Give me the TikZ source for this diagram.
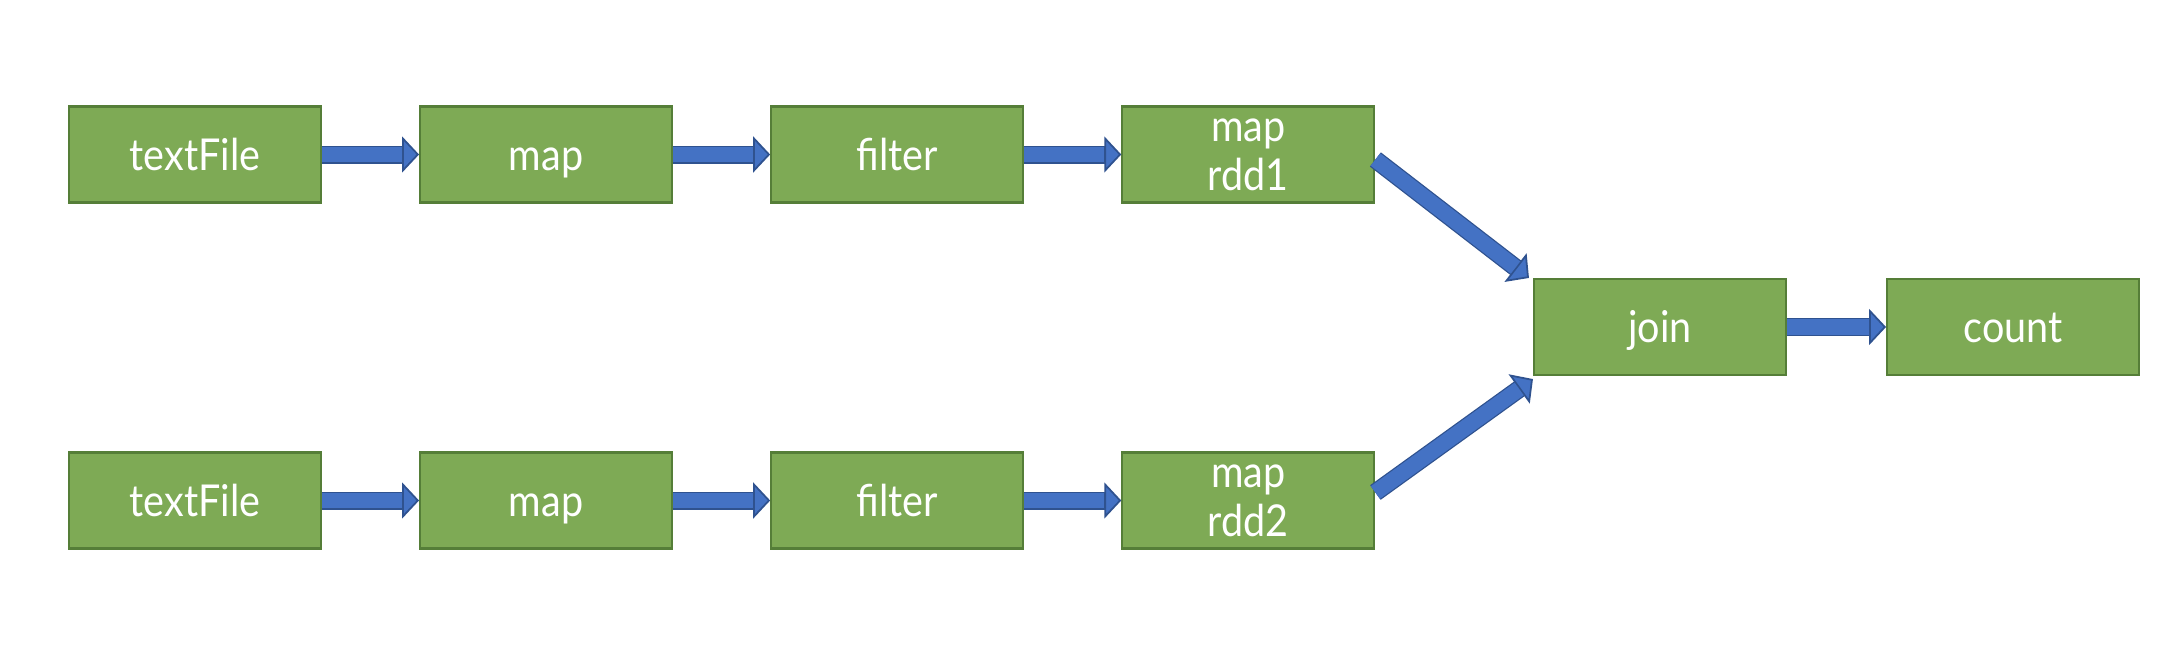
\documentclass[tikz,border=0pt]{standalone}
\usepackage{fontspec}
\setmainfont{Lato}[FakeStretch = 0.9]
\usepackage{xcolor}
\usepackage{tikz}
\usetikzlibrary{positioning,arrows.meta}

\definecolor{stagefill}{HTML}{7EAA55}
\definecolor{stageline}{HTML}{557E38}
\definecolor{flowfill}{HTML}{4472C4}
\definecolor{flowline}{HTML}{2F528F}

\tikzset{
  block/.style = {draw = stageline, fill = stagefill, line width = 0.6pt,
    minimum width = 2.52cm, minimum height = 0.96cm, inner ysep = 0pt,
    text = white, align = center, font = \fontsize{12.5}{13.9}\selectfont},
  stage/.style = {block, text height = 9pt, text depth = 0pt},
  flow/.style = {draw = flowline, line width = 0.18cm,
    -{Triangle[width = 0.36cm, length = 0.17cm, line width = 0.5pt, fill = flowfill]},
    postaction = {draw = flowfill, line width = 0.155cm, -, shorten > = 0.17cm}}
}

\begin{document}
\begin{tikzpicture}
    \useasboundingbox (0, 0) rectangle (21.62, 6.66);
    {
      \node[stage] (T1) at (1.95, 5.115) {textFile};
      \node[stage, right = 0.97cm of T1] (M1) {map};
      \node[stage, right = 0.97cm of M1] (F1) {filter};
      \node[block, right = 0.97cm of F1] (R1) {map\\rdd1};
    }
    {
      \node[stage] (T2) at (1.95, 1.655) {textFile};
      \node[stage, right = 0.97cm of T2] (M2) {map};
      \node[stage, right = 0.97cm of M2] (F2) {filter};
      \node[block, right = 0.97cm of F2] (R2) {map\\rdd2};
    }
    \node[stage] (J) at (16.6, 3.39) {join};
    \node[stage, right = 0.99cm of J] (C) {count};

    \draw[flow] (T1) -- (M1);
    \draw[flow] (M1) -- (F1);
    \draw[flow] (F1) -- (R1);
    \draw[flow] (T2) -- (M2);
    \draw[flow] (M2) -- (F2);
    \draw[flow] (F2) -- (R2);
    \draw[flow] ([yshift = -0.5mm]R1.east) -- ([xshift = -0.4mm]J.north west);
    \draw[flow] ([yshift = 0.8mm]R2.east) -- ([yshift = -0.3mm]J.south west);
    \draw[flow] (J) -- (C);
  \end{tikzpicture}
\end{document}
